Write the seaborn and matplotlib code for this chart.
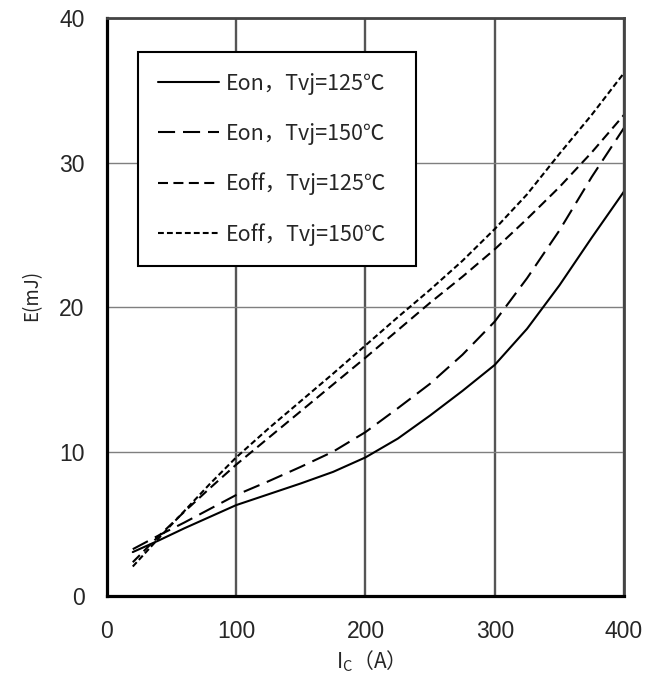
import matplotlib
matplotlib.use("Agg")
import matplotlib.pyplot as plt
import seaborn as sns
import pandas as pd

# Collector current (A)
ic = [20, 40, 60, 80, 100, 125, 150, 175, 200, 225, 250, 275, 300, 325, 350, 375, 400]

# Switching energies (mJ)
eon_125 = [3.05, 3.85, 4.7, 5.5, 6.3, 7.05, 7.8, 8.6, 9.6, 10.9, 12.5, 14.2, 16.0, 18.5, 21.5, 24.8, 28.0]
eon_150 = [3.25, 4.2, 5.1, 6.05, 7.0, 7.95, 8.95, 10.0, 11.35, 13.0, 14.7, 16.7, 19.0, 22.0, 25.3, 29.0, 32.4]
eoff_125 = [2.35, 4.15, 5.85, 7.5, 9.1, 10.95, 12.8, 14.65, 16.5, 18.4, 20.3, 22.1, 24.0, 26.1, 28.3, 30.7, 33.3]
eoff_150 = [2.05, 4.0, 5.9, 7.8, 9.6, 11.6, 13.5, 15.4, 17.35, 19.3, 21.2, 23.2, 25.4, 27.8, 30.6, 33.3, 36.2]

series_labels = ["Eon，Tvj=125℃", "Eon，Tvj=150℃", "Eoff，Tvj=125℃", "Eoff，Tvj=150℃"]
series_values = [eon_125, eon_150, eoff_125, eoff_150]
series_styles = ["-", (0, (8.2, 3.8)), (0, (4.8, 2.6)), (0, (2.8, 1.5))]

x_ticks = [0, 100, 200, 300, 400]
y_ticks = [0, 10, 20, 30, 40]

sns.set_style("white")
cjk = ["Noto Sans CJK SC", "DejaVu Sans"]
num_font = ["Liberation Sans", "DejaVu Sans"]
plt.rcParams["font.family"] = cjk

fig = plt.figure(figsize=(6.48, 6.79), dpi=100)
ax = fig.add_axes([0.165, 0.122, 0.798, 0.8515])

for label, vals, ls in zip(series_labels, series_values, series_styles):
    df = pd.DataFrame({"Ic": ic, "E": vals})
    sns.lineplot(data=df, x="Ic", y="E", ax=ax, color="black",
                 linewidth=1.5, linestyle=ls, label=label)

ax.set_xlim(0, 400)
ax.set_ylim(0, 40)
ax.set_xticks(x_ticks)
ax.set_yticks(y_ticks)
ax.set_xticklabels([str(v) for v in x_ticks], fontfamily=num_font, fontsize=16.5)
ax.set_yticklabels([str(v) for v in y_ticks], fontfamily=num_font, fontsize=16.5)
ax.tick_params(axis="both", length=0)
ax.tick_params(axis="x", pad=17)
ax.tick_params(axis="y", pad=16)

# grid: heavy verticals, light horizontals
ax.xaxis.grid(True, color="#555555", linewidth=1.7)
ax.yaxis.grid(True, color="#7f7f7f", linewidth=1.0)
ax.set_axisbelow(True)

for side in ["left", "bottom"]:
    ax.spines[side].set_color("black")
    ax.spines[side].set_linewidth(2.3)
for side in ["top", "right"]:
    ax.spines[side].set_color("#444444")
    ax.spines[side].set_linewidth(2.0)

ax.set_xlabel(r"$\mathregular{I_C}$（A）", fontsize=15, labelpad=4)
ax.set_ylabel("E(mJ)", fontsize=13.5)
ax.yaxis.set_label_coords(-0.125, 0.52)

handles, labels = ax.get_legend_handles_labels()
leg = ax.legend(handles, labels, loc="upper left",
                bbox_to_anchor=(0.060, 0.578, 0.538, 0.363), mode="expand",
                borderaxespad=0, fancybox=False, frameon=True,
                edgecolor="black", framealpha=1, fontsize=15.5,
                handlelength=2.8, handletextpad=0.35, labelspacing=1.3,
                borderpad=0.95)
leg.get_frame().set_linewidth(1.5)

fig.savefig("out.png", dpi=100, facecolor="white")
